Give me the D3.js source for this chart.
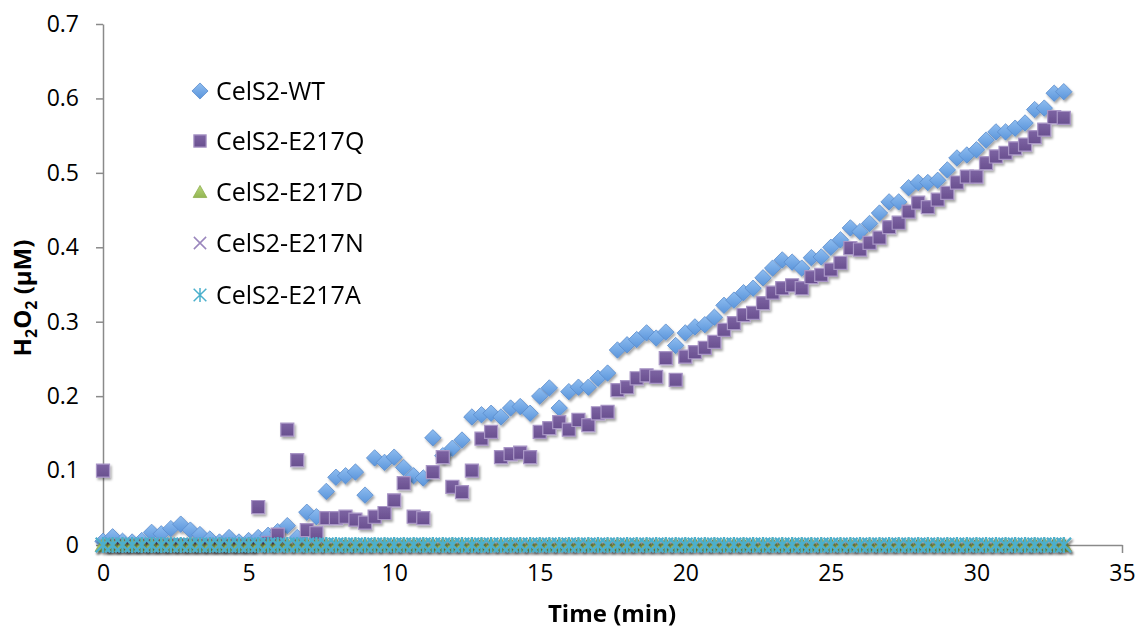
<!DOCTYPE html>
<html>
<head>
<meta charset="utf-8">
<script src="https://cdn.jsdelivr.net/npm/d3@7"></script>
<style>
  html, body { margin: 0; padding: 0; background: #fff; }
  svg { display: block; }
  text { font-family: "Open Sans", "DejaVu Sans", sans-serif; fill: #000; }
</style>
</head>
<body>
<svg id="chart" width="1138" height="633"></svg>
<script>
// Sampling times (min), one reading every 20 s
const times = [
  0, 0.33, 0.67, 1, 1.33, 1.67, 2, 2.33, 2.67, 3,
  3.33, 3.67, 4, 4.33, 4.67, 5, 5.33, 5.67, 6, 6.33,
  6.67, 7, 7.33, 7.67, 8, 8.33, 8.67, 9, 9.33, 9.67,
  10, 10.33, 10.67, 11, 11.33, 11.67, 12, 12.33, 12.67, 13,
  13.33, 13.67, 14, 14.33, 14.67, 15, 15.33, 15.67, 16, 16.33,
  16.67, 17, 17.33, 17.67, 18, 18.33, 18.67, 19, 19.33, 19.67,
  20, 20.33, 20.67, 21, 21.33, 21.67, 22, 22.33, 22.67, 23,
  23.33, 23.67, 24, 24.33, 24.67, 25, 25.33, 25.67, 26, 26.33,
  26.67, 27, 27.33, 27.67, 28, 28.33, 28.67, 29, 29.33, 29.67,
  30, 30.33, 30.67, 31, 31.33, 31.67, 32, 32.33, 32.67, 33
];

// H2O2 (µM) per enzyme variant
const wt = [
  0.005, 0.011, 0.005, 0.004, 0.006, 0.017, 0.015, 0.022, 0.028, 0.020,
  0.014, 0.008, 0.004, 0.010, 0.004, 0.006, 0.010, 0.013, 0.018, 0.026,
  0.010, 0.044, 0.038, 0.072, 0.091, 0.093, 0.098, 0.067, 0.117, 0.111,
  0.118, 0.104, 0.093, 0.090, 0.144, 0.120, 0.130, 0.141, 0.172, 0.175,
  0.177, 0.172, 0.184, 0.186, 0.177, 0.200, 0.211, 0.184, 0.206, 0.212,
  0.212, 0.224, 0.231, 0.262, 0.269, 0.276, 0.285, 0.278, 0.286, 0.268,
  0.285, 0.293, 0.296, 0.306, 0.322, 0.329, 0.339, 0.345, 0.359, 0.372,
  0.383, 0.380, 0.372, 0.386, 0.387, 0.400, 0.410, 0.426, 0.421, 0.432,
  0.446, 0.461, 0.461, 0.480, 0.487, 0.487, 0.490, 0.504, 0.520, 0.524,
  0.531, 0.544, 0.555, 0.555, 0.560, 0.567, 0.585, 0.587, 0.607, 0.609
];
const e217q = [
  0.100, 0, 0, 0, 0, 0, 0, 0, 0, 0,
  0, 0, 0, 0, 0, 0, 0.051, 0.003, 0.014, 0.155,
  0.114, 0.020, 0.016, 0.036, 0.036, 0.038, 0.034, 0.030, 0.038, 0.043,
  0.060, 0.083, 0.038, 0.036, 0.098, 0.118, 0.078, 0.071, 0.100, 0.143,
  0.152, 0.118, 0.122, 0.124, 0.118, 0.152, 0.157, 0.165, 0.155, 0.168,
  0.161, 0.177, 0.179, 0.208, 0.212, 0.224, 0.228, 0.226, 0.251, 0.222,
  0.253, 0.259, 0.265, 0.273, 0.289, 0.298, 0.309, 0.312, 0.325, 0.339,
  0.345, 0.349, 0.345, 0.360, 0.363, 0.370, 0.379, 0.399, 0.397, 0.406,
  0.413, 0.427, 0.433, 0.448, 0.460, 0.454, 0.464, 0.473, 0.487, 0.495,
  0.495, 0.513, 0.522, 0.527, 0.533, 0.538, 0.548, 0.558, 0.575, 0.574
];
const e217d = [
  0, 0, 0, 0, 0, 0, 0, 0, 0, 0,  0, 0, 0, 0, 0, 0, 0, 0, 0, 0,
  0, 0, 0, 0, 0, 0, 0, 0, 0, 0,  0, 0, 0, 0, 0, 0, 0, 0, 0, 0,
  0, 0, 0, 0, 0, 0, 0, 0, 0, 0,  0, 0, 0, 0, 0, 0, 0, 0, 0, 0,
  0, 0, 0, 0, 0, 0, 0, 0, 0, 0,  0, 0, 0, 0, 0, 0, 0, 0, 0, 0,
  0, 0, 0, 0, 0, 0, 0, 0, 0, 0,  0, 0, 0, 0, 0, 0, 0, 0, 0, 0
];
const e217n = [
  0, 0, 0, 0, 0, 0, 0, 0, 0, 0,  0, 0, 0, 0, 0, 0, 0, 0, 0, 0,
  0, 0, 0, 0, 0, 0, 0, 0, 0, 0,  0, 0, 0, 0, 0, 0, 0, 0, 0, 0,
  0, 0, 0, 0, 0, 0, 0, 0, 0, 0,  0, 0, 0, 0, 0, 0, 0, 0, 0, 0,
  0, 0, 0, 0, 0, 0, 0, 0, 0, 0,  0, 0, 0, 0, 0, 0, 0, 0, 0, 0,
  0, 0, 0, 0, 0, 0, 0, 0, 0, 0,  0, 0, 0, 0, 0, 0, 0, 0, 0, 0
];
const e217a = [
  0, 0, 0, 0, 0, 0, 0, 0, 0, 0,  0, 0, 0, 0, 0, 0, 0, 0, 0, 0,
  0, 0, 0, 0, 0, 0, 0, 0, 0, 0,  0, 0, 0, 0, 0, 0, 0, 0, 0, 0,
  0, 0, 0, 0, 0, 0, 0, 0, 0, 0,  0, 0, 0, 0, 0, 0, 0, 0, 0, 0,
  0, 0, 0, 0, 0, 0, 0, 0, 0, 0,  0, 0, 0, 0, 0, 0, 0, 0, 0, 0,
  0, 0, 0, 0, 0, 0, 0, 0, 0, 0,  0, 0, 0, 0, 0, 0, 0, 0, 0, 0
];

const seriesNames = ["CelS2-WT", "CelS2-E217Q", "CelS2-E217D", "CelS2-E217N", "CelS2-E217A"];
const xTicks = [0, 5, 10, 15, 20, 25, 30, 35];
const yTicks = [0, 0.1, 0.2, 0.3, 0.4, 0.5, 0.6, 0.7];
const yTickLabels = ["0", "0.1", "0.2", "0.3", "0.4", "0.5", "0.6", "0.7"];

// ---- custom marker shapes for d3.symbol ----
const symRotSquare = { draw(ctx, size) { const r = Math.sqrt(size) / Math.SQRT2;
  ctx.moveTo(0, -r); ctx.lineTo(r, 0); ctx.lineTo(0, r); ctx.lineTo(-r, 0); ctx.closePath(); } };
const symSquare = { draw(ctx, size) { const h = Math.sqrt(size) / 2;
  ctx.rect(-h, -h, 2 * h, 2 * h); } };
const symTriangle = { draw(ctx, size) { const h = Math.sqrt(size) / 2;
  ctx.moveTo(0, -h); ctx.lineTo(h * 1.05, h * 0.85); ctx.lineTo(-h * 1.05, h * 0.85); ctx.closePath(); } };
const symTimes = { draw(ctx, size) { const h = Math.sqrt(size) / 2;
  ctx.moveTo(-h, -h); ctx.lineTo(h, h); ctx.moveTo(h, -h); ctx.lineTo(-h, h); } };
const symStar = { draw(ctx, size) { const h = Math.sqrt(size) / 2;
  ctx.moveTo(-h, -h); ctx.lineTo(h, h); ctx.moveTo(h, -h); ctx.lineTo(-h, h);
  ctx.moveTo(0, -h * 1.1); ctx.lineTo(0, h * 1.1); } };

const svg = d3.select("#chart");
const defs = svg.append("defs");

const shadow = defs.append("filter").attr("id", "shadow")
  .attr("x", "-30%").attr("y", "-30%").attr("width", "160%").attr("height", "160%");
shadow.append("feDropShadow").attr("dx", 1.5).attr("dy", 2.2).attr("stdDeviation", 1.3)
  .attr("flood-color", "#000").attr("flood-opacity", 0.35);

function vGrad(id, top, bottom) {
  const g = defs.append("linearGradient").attr("id", id)
    .attr("x1", 0).attr("y1", 0).attr("x2", 0).attr("y2", 1);
  g.append("stop").attr("offset", "0%").attr("stop-color", top);
  g.append("stop").attr("offset", "100%").attr("stop-color", bottom);
}
vGrad("gBlue", "#8fbdf0", "#5a95db");
vGrad("gPurple", "#7d64a3", "#694f8f");
vGrad("gGreen", "#b7d57a", "#93b653");

const series = [
  { name: seriesNames[0], values: wt,    type: symRotSquare, size: 135, fill: "url(#gBlue)",   stroke: "#5a8ccc", sw: 0.8 },
  { name: seriesNames[1], values: e217q, type: symSquare,    size: 170, fill: "url(#gPurple)", stroke: "#a996c6", sw: 1.2 },
  { name: seriesNames[2], values: e217d, type: symTriangle,  size: 230, fill: "url(#gGreen)",  stroke: "#8fae4f", sw: 0.8 },
  { name: seriesNames[3], values: e217n, type: symTimes,     size: 190, fill: "none",          stroke: "#9a86bd", sw: 1.8 },
  { name: seriesNames[4], values: e217a, type: symStar,      size: 210, fill: "none",          stroke: "#4bb0cc", sw: 2.2 }
];

const x = d3.scaleLinear().domain([0, 35]).range([103, 1122]);
const y = d3.scaleLinear().domain([0, 0.7]).range([545, 24]);

// ---- axes ----
const axisColor = "#8a8a8a";
const yAxis = svg.append("g").attr("transform", `translate(${x(0)},0)`)
  .call(d3.axisLeft(y).tickValues(yTicks).tickFormat((d, i) => yTickLabels[i])
    .tickSize(7).tickSizeOuter(0).tickPadding(17));
const xAxis = svg.append("g").attr("transform", `translate(0,${y(0)})`)
  .call(d3.axisBottom(x).tickValues(xTicks).tickFormat(d3.format("d"))
    .tickSize(8).tickSizeOuter(0).tickPadding(12));
[xAxis, yAxis].forEach(g => {
  g.select(".domain").attr("stroke", axisColor).attr("stroke-width", 1.5);
  g.selectAll(".tick line").attr("stroke", axisColor).attr("stroke-width", 1.5);
  g.selectAll(".tick text").attr("font-size", 23)
    .style("font-family", '"Open Sans", sans-serif').attr("fill", "#000");
});

// ---- markers ----
series.forEach(s => {
  const sym = d3.symbol().type(s.type).size(s.size);
  svg.append("g").attr("filter", "url(#shadow)")
    .selectAll("path").data(s.values.map((v, i) => [times[i], v])).join("path")
    .attr("transform", d => `translate(${x(d[0])},${y(d[1])})`)
    .attr("d", sym)
    .attr("fill", s.fill).attr("stroke", s.stroke).attr("stroke-width", s.sw);
});

// ---- legend ----
const legend = svg.append("g");
const legendY = [91, 141, 192, 243, 295];
const legendSize = [130, 150, 170, 150, 160];
series.forEach((s, i) => {
  const sym = d3.symbol().type(s.type).size(legendSize[i]);
  legend.append("path").attr("transform", `translate(200,${legendY[i]})`)
    .attr("d", sym).attr("fill", s.fill).attr("stroke", s.stroke)
    .attr("stroke-width", Math.min(s.sw, 1.5));
  legend.append("text").attr("x", 216).attr("y", legendY[i]).attr("dy", "0.36em")
    .attr("font-size", 25).text(s.name);
});

// ---- axis titles ----
svg.append("text").attr("x", 612).attr("y", 622).attr("text-anchor", "middle")
  .attr("font-size", 24).attr("font-weight", "bold").text("Time (min)");

const yt = svg.append("text").attr("transform", "translate(31,298) rotate(-90)")
  .attr("text-anchor", "middle").attr("font-size", 24).attr("font-weight", "bold");
yt.append("tspan").text("H");
yt.append("tspan").attr("font-size", 16).attr("dy", 6).text("2");
yt.append("tspan").attr("dy", -6).text("O");
yt.append("tspan").attr("font-size", 16).attr("dy", 6).text("2");
yt.append("tspan").attr("dy", -6).text(" (µM)");
</script>
</body>
</html>
